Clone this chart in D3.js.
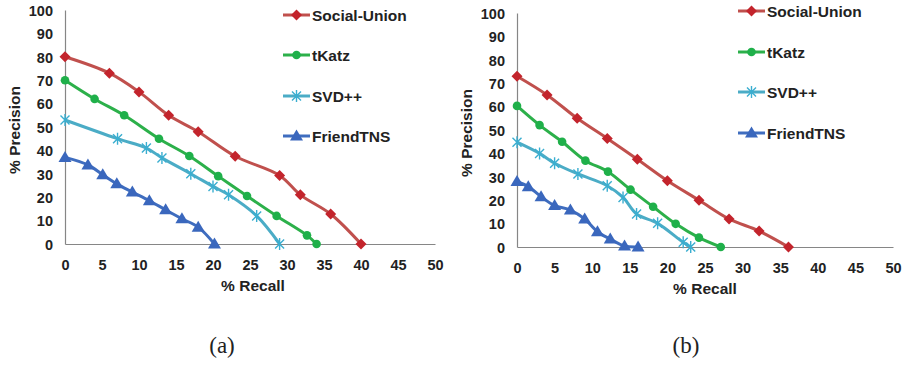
<!DOCTYPE html>
<html>
<head>
<meta charset="utf-8">
<script src="https://cdn.jsdelivr.net/npm/d3@7"></script>
<style>
  body { margin: 0; background: #fff; }
  text { font-family: "Liberation Sans", Arial, sans-serif; font-weight: bold; fill: #222; }
  .cap { font-family: "Liberation Serif", "DejaVu Serif", serif; font-weight: normal; fill: #222; }
</style>
</head>
<body>
<svg id="chart" width="906" height="365"></svg>
<script>
// tick values
const recallTicks = [0, 5, 10, 15, 20, 25, 30, 35, 40, 45, 50];
const precisionTicks = [0, 10, 20, 30, 40, 50, 60, 70, 80, 90, 100];
const seriesNames = ['Social-Union', 'tKatz', 'SVD++', 'FriendTNS'];

// panel (a): [recall, precision]
const socialUnionA = [[0,80],[6,73],[10,65],[14,55],[18,48],[23,37.5],[29,29.3],[31.8,21],[35.9,12.8],[40,0]];
const tKatzA = [[0,70],[4,62],[8,55],[12.7,45],[16.8,37.6],[20.7,29],[24.6,20.5],[28.6,12],[32.7,3.7],[34,0]];
const svdA = [[0,53],[7.1,45],[11,41],[13.1,36.8],[17,30],[20,24.6],[22.1,21],[25.9,12],[29,0]];
const friendA = [[0,37],[3.1,33.8],[5.1,29.6],[7,25.7],[9.1,22.2],[11.4,18.5],[13.6,14.6],[15.8,10.8],[18,7.2],[20.2,0]];

// panel (b)
const socialUnionB = [[0,73],[4,65],[8,55],[12,46.4],[16,37.5],[20,28.3],[24.2,20],[28.2,12],[32.2,6.8],[36.1,0]];
const tKatzB = [[0,60.3],[3,52.1],[6,45],[9.1,36.9],[12.1,32.2],[15.1,24.5],[18.1,17.2],[21.1,9.9],[24.2,4],[27.1,0]];
const svdB = [[0,44.8],[3,40],[5,35.8],[8.1,31.2],[12,26.2],[14.1,21.2],[15.9,14.1],[18.7,10.1],[22.1,2],[23.1,0]];
const friendB = [[0,28],[1.5,25.8],[3.2,21.5],[5,17.7],[7.1,15.8],[9,12],[10.7,6.5],[12.4,3.4],[14.3,0.4],[16.1,0]];

const styles = [
  { line: '#c0504d', mark: '#c3242c', shape: 'diamond' },
  { line: '#2cb04a', mark: '#1fb04a', shape: 'circle' },
  { line: '#4bacc6', mark: '#3aaed0', shape: 'star' },
  { line: '#3f6dbf', mark: '#3a67bd', shape: 'triangle' }
];

const svg = d3.select('#chart');

function marker(g, shape, color) {
  if (shape === 'circle') {
    g.append('circle').attr('r', 4.3).attr('fill', color);
  } else if (shape === 'diamond') {
    g.append('path').attr('d', 'M0,-5.5L5.5,0L0,5.5L-5.5,0Z').attr('fill', color);
  } else if (shape === 'triangle') {
    g.append('path').attr('d', 'M0,-6.5L6.5,4.5L-6.5,4.5Z').attr('fill', color);
  } else {
    g.append('path').attr('d', 'M-4.5,-4.5L4.5,4.5M-4.5,4.5L4.5,-4.5M0,-6L0,6')
      .attr('stroke', color).attr('stroke-width', 1.4).attr('fill', 'none');
  }
}

function drawPanel(p) {
  const x = d3.scaleLinear().domain([0, 50]).range([p.x0, p.x1]);
  const y = d3.scaleLinear().domain([0, 100]).range([p.y0, p.y1]);
  const g = svg.append('g');

  // axes
  const xAxis = g.append('g').attr('transform', `translate(0,${p.y0})`)
    .call(d3.axisBottom(x).tickValues(recallTicks).tickSize(0).tickPadding(16));
  const yAxis = g.append('g').attr('transform', `translate(${p.x0},0)`)
    .call(d3.axisLeft(y).tickValues(precisionTicks).tickSize(0).tickPadding(12));
  [xAxis, yAxis].forEach(a => {
    a.select('.domain').attr('stroke', '#868686').attr('stroke-width', 1.2);
    a.selectAll('text').attr('font-size', 14.5).attr('font-family', null).attr('fill', '#222');
  });
  yAxis.selectAll('text').attr('dy', '0.36em');

  g.append('text').attr('x', (p.x0 + 188)).attr('y', p.y0 + 47)
    .attr('text-anchor', 'middle').attr('font-size', 15.5).text('% Recall');
  g.append('text').attr('transform', `translate(${p.x0 - 45},${(p.y0 + p.y1) / 2 + 3}) rotate(-90)`)
    .attr('text-anchor', 'middle').attr('font-size', 15.5).text('% Precision');

  const line = d3.line().x(d => x(d[0])).y(d => y(d[1])).curve(d3.curveCatmullRom.alpha(0.5));

  p.series.forEach((s, i) => {
    const st = styles[i];
    g.append('path').datum(s).attr('d', line)
      .attr('fill', 'none').attr('stroke', st.line).attr('stroke-width', 3);
    s.forEach(d => {
      const m = g.append('g').attr('transform', `translate(${x(d[0])},${y(d[1])})`);
      marker(m, st.shape, st.mark);
    });

    // legend
    const ly = p.legendY[i];
    g.append('line').attr('x1', p.legendX).attr('x2', p.legendX + 27)
      .attr('y1', ly).attr('y2', ly).attr('stroke', st.line).attr('stroke-width', 3);
    marker(g.append('g').attr('transform', `translate(${p.legendX + 13.5},${ly})`), st.shape, st.mark);
    g.append('text').attr('x', p.legendX + 29).attr('y', ly).attr('dy', '0.36em')
      .attr('font-size', 15.5).text(seriesNames[i]);
  });

  svg.append('text').attr('class', 'cap').attr('x', p.capX).attr('y', 353)
    .attr('text-anchor', 'middle').attr('font-size', 23).text(p.caption);
}

drawPanel({ x0: 65, x1: 435, y0: 244, y1: 10, legendX: 283, legendY: [15, 55, 96, 136],
  series: [socialUnionA, tKatzA, svdA, friendA], caption: '(a)', capX: 222 });
drawPanel({ x0: 517, x1: 893, y0: 247, y1: 13, legendX: 738, legendY: [11, 52, 92, 133],
  series: [socialUnionB, tKatzB, svdB, friendB], caption: '(b)', capX: 686 });
</script>
</body>
</html>
